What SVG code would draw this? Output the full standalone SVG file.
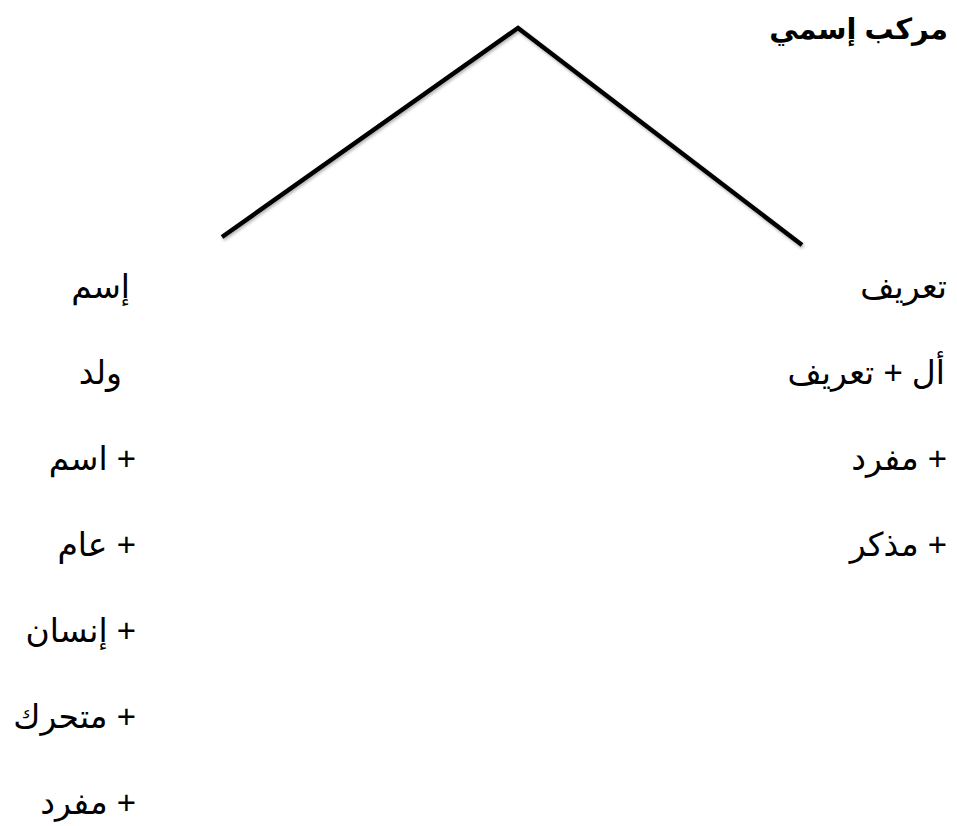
<svg xmlns="http://www.w3.org/2000/svg" width="957" height="826" viewBox="0 0 957 826">
<defs>
<style>
text{font-family:"Liberation Sans","DejaVu Sans",sans-serif;font-size:33px;fill:#000;direction:rtl;text-anchor:start;}
.title{font-weight:bold;font-size:29px;}
.edge{fill:none;stroke:#000;stroke-width:4.5;stroke-linecap:butt;stroke-linejoin:miter;}
</style>
<filter id="sh" x="-10%" y="-10%" width="120%" height="130%">
<feDropShadow dx="1" dy="2" stdDeviation="1.5" flood-color="#000" flood-opacity="0.3"/>
</filter>
</defs>
<rect width="957" height="826" fill="#fff"/>
<g id="connectors" filter="url(#sh)">
<polyline class="edge" points="222,237 518,28 802,245"/>
</g>
<g id="root"><text class="title" x="948" y="39">مركب إسمي</text></g>
<g id="right">
<text x="947" y="298">تعريف</text>
<text x="945" y="384">أل + تعريف</text>
<text x="947" y="470">+ مفرد</text>
<text x="947" y="556">+ مذكر</text>
</g>
<g id="left">
<text x="130" y="298">إسم</text>
<text x="122" y="384">ولد</text>
<text x="136" y="470">+ اسم</text>
<text x="136" y="556">+ عام</text>
<text x="136" y="642">+ إنسان</text>
<text x="136" y="728">+ متحرك</text>
<text x="136" y="814">+ مفرد</text>
</g>
</svg>
